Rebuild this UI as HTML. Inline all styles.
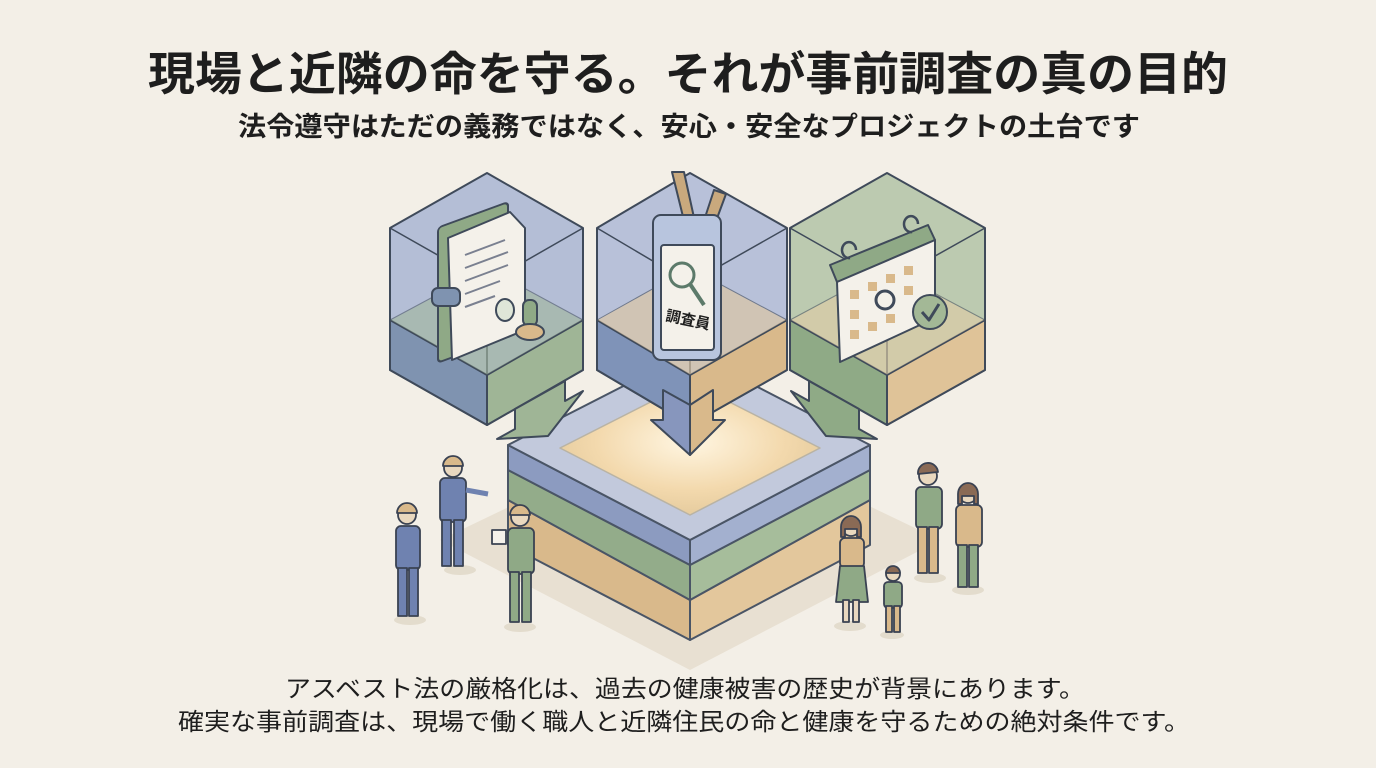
<!DOCTYPE html>
<html><head><meta charset="utf-8">
<style>
html,body{margin:0;padding:0;background:#f3efe7;}
svg{display:block}
text{font-family:"Liberation Sans","Noto Sans CJK JP",sans-serif;fill:#1e1e1e}
</style></head><body>
<svg width="1376" height="768" viewBox="0 0 1376 768" xmlns="http://www.w3.org/2000/svg">
<defs>
<radialGradient id="glow" cx="0.5" cy="0.45" r="0.6">
<stop offset="0" stop-color="#fff6e2"/><stop offset="0.6" stop-color="#f3d9ad"/><stop offset="1" stop-color="#e2c89a"/>
</radialGradient>
</defs>
<rect width="1376" height="768" fill="#f3efe7"/>

<text x="688" y="90" font-size="46" font-weight="bold" text-anchor="middle" textLength="1080" lengthAdjust="spacingAndGlyphs">現場と近隣の命を守る。それが事前調査の真の目的</text>
<text x="689" y="136" font-size="27" font-weight="bold" text-anchor="middle" textLength="902" lengthAdjust="spacingAndGlyphs">法令遵守はただの義務ではなく、安心・安全なプロジェクトの土台です</text>

<polygon points="690,420 940,540 690,670 440,540" fill="#e8e0d2"/>

<g stroke="#4a5566" stroke-width="2" stroke-linejoin="round">
<polygon points="508,500 690,600 690,640 508,545" fill="#d9b98b"/>
<polygon points="690,600 870,500 870,545 690,640" fill="#e3c79c"/>
<polygon points="508,470 690,565 690,600 508,500" fill="#93ac8a"/>
<polygon points="690,565 870,470 870,500 690,600" fill="#a6bd9b"/>
<polygon points="508,445 690,540 690,565 508,470" fill="#8c9bc0"/>
<polygon points="690,540 870,445 870,470 690,565" fill="#a3b0cf"/>
<polygon points="508,445 690,352 870,445 690,540" fill="#c2c9dc"/>
<polygon points="560,448 690,382 820,448 690,515" fill="url(#glow)" stroke="#b9b3a4" stroke-width="1.5"/>
</g>

<g stroke="#3f4a5a" stroke-width="2" stroke-linejoin="round">
 <polygon points="390,228 487,173 583,228 583,370 487,425 390,370" fill="#b4bed6"/>
 <polygon points="390,320 487,375 487,425 390,370" fill="#7f93b0"/>
 <polygon points="487,375 583,320 583,370 487,425" fill="#9fb596"/>
 <polyline points="390,228 487,283 583,228" fill="none" stroke-width="1.5"/>
 <line x1="487" y1="283" x2="487" y2="375" stroke-width="1.5"/>
 <polygon points="390,320 487,268 583,320 487,375" fill="#9fb596" opacity="0.55" stroke-width="1"/>
 <polygon points="597,228 690,173 787,228 787,370 690,425 597,370" fill="#b8c1d9"/>
 <polygon points="597,320 690,375 690,425 597,370" fill="#7f93b8"/>
 <polygon points="690,375 787,320 787,370 690,425" fill="#d9b98b"/>
 <polyline points="597,228 690,283 787,228" fill="none" stroke-width="1.5"/>
 <line x1="690" y1="283" x2="690" y2="375" stroke-width="1.5"/>
 <polygon points="597,320 690,268 787,320 690,375" fill="#e1c69c" opacity="0.6" stroke-width="1"/>
 <polygon points="790,228 887,173 985,228 985,370 887,425 790,370" fill="#bccab0"/>
 <polygon points="790,320 887,375 887,425 790,370" fill="#8faa86"/>
 <polygon points="887,375 985,320 985,370 887,425" fill="#dfc398"/>
 <polyline points="790,228 887,283 985,228" fill="none" stroke-width="1.5"/>
 <line x1="887" y1="283" x2="887" y2="375" stroke-width="1.5"/>
 <polygon points="790,320 887,268 985,320 887,375" fill="#e4cda5" opacity="0.55" stroke-width="1"/>

 <!-- arrows -->
 <polygon points="515,409 565,381 565,401 583,391 548,436 497,439 515,429" fill="#9fb596"/>
 <polygon points="859,409 809,381 809,401 791,391 826,436 877,439 859,429" fill="#8faa86"/>
 <polygon points="663,410 663,390 690,405 690,455 651,420 663,420" fill="#8796bd"/>
 <polygon points="713,390 713,420 725,420 690,455 690,405" fill="#d9b98b"/>
</g>

<g stroke="#3f4a5a" stroke-width="2" stroke-linejoin="round">
 <rect x="438" y="225" width="70" height="135" rx="4" fill="#8fa986" transform="skewY(-20) translate(0,162)"/>
 <polygon points="448,238 510,212 525,228 525,330 452,360" fill="#f4f1ea"/>
 <line x1="465" y1="255" x2="505" y2="240" stroke="#7a8090"/>
 <line x1="465" y1="268" x2="508" y2="252" stroke="#7a8090"/>
 <line x1="465" y1="281" x2="508" y2="265" stroke="#7a8090"/>
 <line x1="465" y1="294" x2="500" y2="281" stroke="#7a8090"/>
 <line x1="465" y1="307" x2="495" y2="296" stroke="#7a8090"/>
 <ellipse cx="505" cy="310" rx="9" ry="11" fill="#dfe6d8"/>
 <rect x="432" y="288" width="28" height="18" rx="6" fill="#7f93b0"/>
 <rect x="523" y="300" width="14" height="26" rx="6" fill="#8fa986"/>
 <ellipse cx="530" cy="332" rx="14" ry="8" fill="#d9b98b"/>
</g>

<g stroke="#3f4a5a" stroke-width="2" stroke-linejoin="round">
 <polygon points="672,172 684,172 700,245 690,245" fill="#c9a97d"/>
 <polygon points="714,190 726,194 706,248 696,245" fill="#c9a97d"/>
 <rect x="653" y="215" width="68" height="145" rx="8" fill="#b8c5de"/>
 <rect x="661" y="245" width="53" height="105" rx="3" fill="#f4f1ea"/>
 <circle cx="682" cy="275" r="12" fill="none" stroke="#5c7a6a" stroke-width="3"/>
 <line x1="690" y1="284" x2="704" y2="305" stroke="#5c7a6a" stroke-width="4"/>
 <text x="688" y="325" font-size="15" font-weight="bold" text-anchor="middle" fill="#3d4a5a" stroke="none" transform="rotate(12 688 320)">調査員</text>
</g>

<g stroke="#3f4a5a" stroke-width="2" stroke-linejoin="round">
 <polygon points="830,265 928,225 935,240 837,282" fill="#8fa986"/>
 <polygon points="837,282 935,240 935,318 840,362" fill="#f4f1ea"/>
 <g fill="#d9b98b" stroke="none">
  <rect x="850" y="290" width="9" height="9"/><rect x="868" y="282" width="9" height="9"/><rect x="886" y="274" width="9" height="9"/><rect x="904" y="266" width="9" height="9"/>
  <rect x="850" y="310" width="9" height="9"/><rect x="904" y="286" width="9" height="9"/>
  <rect x="850" y="330" width="9" height="9"/><rect x="868" y="322" width="9" height="9"/><rect x="886" y="314" width="9" height="9"/>
 </g>
 <circle cx="885" cy="300" r="9" fill="none" stroke="#3f4a5a" stroke-width="3"/>
 <circle cx="930" cy="312" r="17" fill="#a3b896"/>
 <polyline points="922,312 929,320 939,304" fill="none" stroke-width="3"/>
 <path d="M850 258 a7 8 0 1 1 6 -8" fill="none" stroke-width="2.5"/>
 <path d="M912 232 a7 8 0 1 1 6 -8" fill="none" stroke-width="2.5"/>
</g>

<g stroke="#3a4252" stroke-width="1.8" stroke-linejoin="round">
 <ellipse cx="410" cy="620" rx="16" ry="5" fill="#e3dccd" stroke="none"/>
 <circle cx="407" cy="515" r="9" fill="#e9d8bf"/><path d="M397 513 a10 10 0 0 1 20 0z" fill="#d9b98b"/>
 <rect x="396" y="526" width="24" height="44" rx="5" fill="#6f82b0"/>
 <rect x="398" y="568" width="9" height="48" fill="#6f82b0"/><rect x="409" y="568" width="9" height="48" fill="#6f82b0"/>
 <ellipse cx="460" cy="570" rx="16" ry="5" fill="#e3dccd" stroke="none"/>
 <circle cx="453" cy="468" r="9" fill="#e9d8bf"/><path d="M443 466 a10 10 0 0 1 20 0z" fill="#d9b98b"/>
 <rect x="440" y="478" width="26" height="44" rx="5" fill="#6f82b0"/>
 <line x1="466" y1="490" x2="488" y2="494" stroke-width="5" stroke="#6f82b0"/>
 <rect x="442" y="520" width="9" height="46" fill="#6f82b0"/><rect x="454" y="520" width="9" height="46" fill="#6f82b0"/>
 <ellipse cx="520" cy="627" rx="16" ry="5" fill="#e3dccd" stroke="none"/>
 <circle cx="520" cy="517" r="9" fill="#e9d8bf"/><path d="M510 515 a10 10 0 0 1 20 0z" fill="#d9b98b"/>
 <rect x="508" y="528" width="26" height="46" rx="5" fill="#8fa986"/>
 <rect x="492" y="530" width="14" height="14" fill="#f4f1ea"/>
 <rect x="510" y="572" width="9" height="50" fill="#8fa986"/><rect x="522" y="572" width="9" height="50" fill="#8fa986"/>
</g>

<g stroke="#3a4252" stroke-width="1.8" stroke-linejoin="round">
 <ellipse cx="930" cy="578" rx="16" ry="5" fill="#e3dccd" stroke="none"/>
 <circle cx="928" cy="476" r="9" fill="#e9d8bf"/><path d="M918 474 a10 10 0 0 1 20 -2z" fill="#8a6a55"/>
 <rect x="916" y="487" width="26" height="42" rx="5" fill="#8fa986"/>
 <rect x="918" y="527" width="9" height="46" fill="#d9b98b"/><rect x="929" y="527" width="9" height="46" fill="#d9b98b"/>
 <ellipse cx="968" cy="590" rx="16" ry="5" fill="#e3dccd" stroke="none"/>
 <circle cx="968" cy="494" r="9" fill="#e9d8bf"/><path d="M958 494 a10 11 0 0 1 20 0 v10 h-4 v-8 h-12 v8 h-4z" fill="#8a6a55"/>
 <rect x="956" y="505" width="26" height="42" rx="5" fill="#d9b98b"/>
 <rect x="958" y="545" width="9" height="42" fill="#8fa986"/><rect x="969" y="545" width="9" height="42" fill="#8fa986"/>
 <ellipse cx="850" cy="626" rx="16" ry="5" fill="#e3dccd" stroke="none"/>
 <circle cx="851" cy="527" r="9" fill="#e9d8bf"/><path d="M841 527 a10 11 0 0 1 20 0 v10 h-4 v-8 h-12 v8 h-4z" fill="#8a6a55"/>
 <rect x="840" y="538" width="24" height="30" rx="5" fill="#d9b98b"/>
 <polygon points="840,566 864,566 868,602 836,602" fill="#8fa986"/>
 <rect x="843" y="600" width="6" height="22" fill="#e9d8bf"/><rect x="853" y="600" width="6" height="22" fill="#e9d8bf"/>
 <ellipse cx="892" cy="635" rx="12" ry="4" fill="#e3dccd" stroke="none"/>
 <circle cx="893" cy="574" r="7" fill="#e9d8bf"/><path d="M886 573 a7 7 0 0 1 14 0z" fill="#8a6a55"/>
 <rect x="884" y="582" width="18" height="26" rx="4" fill="#8fa986"/>
 <rect x="886" y="606" width="6" height="26" fill="#d9b98b"/><rect x="894" y="606" width="6" height="26" fill="#d9b98b"/>
</g>

<text x="685" y="697" font-size="24" text-anchor="middle" textLength="800" lengthAdjust="spacingAndGlyphs">アスベスト法の厳格化は、過去の健康被害の歴史が背景にあります。</text>
<text x="684" y="730" font-size="24" text-anchor="middle" textLength="1012" lengthAdjust="spacingAndGlyphs">確実な事前調査は、現場で働く職人と近隣住民の命と健康を守るための絶対条件です。</text>
</svg>
</body></html>
